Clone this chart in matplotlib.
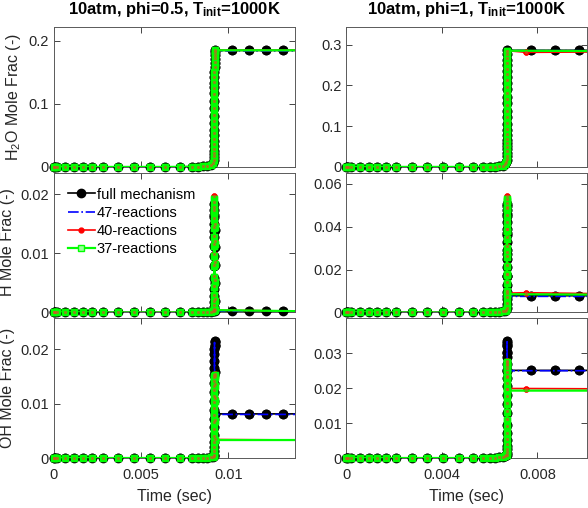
import matplotlib
matplotlib.use("Agg")
import matplotlib.pyplot as plt
from matplotlib.ticker import FuncFormatter

plt.rcParams['font.family'] = ['Liberation Sans', 'DejaVu Sans']
plt.rcParams['mathtext.fontset'] = 'custom'
plt.rcParams['mathtext.rm'] = 'Liberation Sans'
plt.rcParams['mathtext.it'] = 'Liberation Sans:italic'
plt.rcParams['mathtext.bf'] = 'Liberation Sans:bold'

# ---- phi = 0.5 (left column) ----
t05_base = [0, 0.00002, 0.00008, 0.0002, 0.00065, 0.00114, 0.00167, 0.00219, 0.00282, 0.00367, 0.00457,
            0.00549, 0.00638, 0.00722, 0.00789, 0.00829, 0.00857, 0.0088, 0.0090, 0.00912, 0.00917,
            0.00918, 0.009185, 0.00919, 0.009193, 0.009196, 0.009198, 0.0092, 0.009201, 0.009202, 0.009203, 0.009204,
            0.009205, 0.009206, 0.009207, 0.009208, 0.009209, 0.00921, 0.009211, 0.009212, 0.009214, 0.009217, 0.00922]
t05_full = t05_base + [0.01019, 0.01118, 0.01217, 0.01316, 0.01415]
t05_short = t05_base + [0.0145]

h2o05_full = [0, 0, 0, 0, 0, 0, 0, 0, 0, 0, 0, 0, 0, 0.0001, 0.0003, 0.0006, 0.001, 0.0017, 0.003, 0.006, 0.011,
              0.016, 0.02, 0.026, 0.033, 0.041, 0.05, 0.059, 0.069, 0.08, 0.093, 0.105,
              0.117, 0.127, 0.133, 0.142, 0.15, 0.158, 0.165, 0.171, 0.177, 0.182, 0.185,
              0.185, 0.185, 0.185, 0.185, 0.185]
h2o05_47 = [0, 0, 0, 0, 0, 0, 0, 0, 0, 0, 0, 0, 0, 0.0001, 0.0003, 0.0006, 0.001, 0.0017, 0.003, 0.006, 0.011,
            0.016, 0.02, 0.026, 0.033, 0.041, 0.05, 0.059, 0.069, 0.08, 0.093, 0.105,
            0.117, 0.127, 0.133, 0.142, 0.15, 0.158, 0.165, 0.171, 0.177, 0.182, 0.184,
            0.184, 0.184, 0.184, 0.184, 0.184]
h2o05_40 = [0, 0, 0, 0, 0, 0, 0, 0, 0, 0, 0, 0, 0, 0.0001, 0.0003, 0.0006, 0.001, 0.0017, 0.003, 0.006, 0.011,
            0.017, 0.022, 0.028, 0.036, 0.045, 0.054, 0.063, 0.073, 0.083, 0.094, 0.105,
            0.115, 0.125, 0.134, 0.143, 0.151, 0.159, 0.166, 0.172, 0.178, 0.182, 0.185,
            0.185]
h2o05_37 = [0, 0, 0, 0, 0, 0, 0, 0, 0, 0, 0, 0, 0, 0.0001, 0.0003, 0.0006, 0.001, 0.0017, 0.003, 0.006, 0.011,
            0.016, 0.021, 0.027, 0.034, 0.043, 0.052, 0.061, 0.071, 0.081, 0.092, 0.103,
            0.114, 0.124, 0.133, 0.142, 0.15, 0.158, 0.165, 0.171, 0.177, 0.182, 0.185,
            0.185]

h05_full = [0, 0, 0, 0, 0, 0, 0, 0, 0, 0, 0, 0, 0, 0, 0.00002, 0.00004, 0.00006, 0.0001, 0.00015, 0.0002, 0.0003,
            0.0005, 0.001, 0.0018, 0.0028, 0.004, 0.0059, 0.0078, 0.0095, 0.0112, 0.0128, 0.0138,
            0.015, 0.0162, 0.0173, 0.0183, 0.0165, 0.014, 0.011, 0.008, 0.005, 0.002, 0.0003,
            0.0002, 0.0002, 0.0002, 0.0002, 0.0002]
h05_47 = [0, 0, 0, 0, 0, 0, 0, 0, 0, 0, 0, 0, 0, 0, 0.00002, 0.00004, 0.00006, 0.0001, 0.00015, 0.0002, 0.0003,
          0.0005, 0.001, 0.0018, 0.0028, 0.004, 0.0059, 0.0078, 0.0095, 0.0112, 0.0128, 0.0138,
          0.015, 0.0162, 0.0172, 0.0181, 0.0165, 0.014, 0.011, 0.008, 0.005, 0.002, 0.0003,
          0.0002, 0.0002, 0.0002, 0.0002, 0.0002]
h05_40 = [0, 0, 0, 0, 0, 0, 0, 0, 0, 0, 0, 0, 0, 0, 0.00002, 0.00004, 0.00006, 0.0001, 0.00015, 0.0002, 0.0003,
          0.0006, 0.0012, 0.002, 0.003, 0.0045, 0.0062, 0.008, 0.0098, 0.0115, 0.013, 0.0145,
          0.016, 0.0173, 0.0186, 0.0197, 0.0178, 0.015, 0.012, 0.0085, 0.0055, 0.0022, 0.0004,
          0.0002]
h05_37 = [0, 0, 0, 0, 0, 0, 0, 0, 0, 0, 0, 0, 0, 0, 0.00002, 0.00004, 0.00006, 0.0001, 0.00015, 0.0002, 0.0003,
          0.0006, 0.0011, 0.0019, 0.003, 0.0043, 0.006, 0.0078, 0.0095, 0.0112, 0.0128, 0.0142,
          0.0156, 0.0168, 0.018, 0.0191, 0.0172, 0.0145, 0.0115, 0.0082, 0.0052, 0.002, 0.0004,
          0.0002]

oh05_full = [0, 0, 0, 0, 0, 0, 0, 0, 0, 0, 0, 0, 0, 0, 0, 0, 0.00002, 0.00005, 0.0001, 0.0002, 0.0004,
             0.0006, 0.0012, 0.002, 0.003, 0.0042, 0.0056, 0.0072, 0.0088, 0.0105, 0.0122, 0.0138,
             0.0152, 0.0165, 0.0178, 0.019, 0.02, 0.0208, 0.0213, 0.0214, 0.0205, 0.0158, 0.0081,
             0.0081, 0.0081, 0.0081, 0.0081, 0.0081]
oh05_47 = [0, 0, 0, 0, 0, 0, 0, 0, 0, 0, 0, 0, 0, 0, 0, 0, 0.00002, 0.00005, 0.0001, 0.0002, 0.0004,
           0.0006, 0.0012, 0.002, 0.003, 0.0042, 0.0056, 0.0072, 0.0088, 0.0105, 0.0122, 0.0138,
           0.0152, 0.0165, 0.0178, 0.019, 0.02, 0.0207, 0.0211, 0.0212, 0.0204, 0.0157, 0.008,
           0.008, 0.008, 0.008, 0.008, 0.008]
oh05_40 = [0, 0, 0, 0, 0, 0, 0, 0, 0, 0, 0, 0, 0, 0, 0, 0, 0.00002, 0.00005, 0.0001, 0.0002, 0.0004,
           0.0006, 0.0012, 0.002, 0.003, 0.0041, 0.0053, 0.0066, 0.0079, 0.0091, 0.0103, 0.0114,
           0.0124, 0.0133, 0.0141, 0.0148, 0.0153, 0.0154, 0.015, 0.0135, 0.011, 0.007, 0.0034,
           0.0033]
oh05_37 = [0, 0, 0, 0, 0, 0, 0, 0, 0, 0, 0, 0, 0, 0, 0, 0, 0.00002, 0.00005, 0.0001, 0.0002, 0.0004,
           0.0006, 0.0012, 0.002, 0.0029, 0.004, 0.0052, 0.0065, 0.0078, 0.009, 0.0102, 0.0113,
           0.0123, 0.0132, 0.014, 0.0147, 0.0151, 0.0152, 0.0148, 0.0132, 0.0105, 0.0068, 0.0033,
           0.0033]

# ---- phi = 1 (right column) ----
t10_base = [0, 0.00002, 0.00008, 0.0002, 0.00055, 0.00093, 0.00129, 0.00166, 0.00208, 0.00274, 0.00337,
            0.00403, 0.0047, 0.00532, 0.00574, 0.00602, 0.00623, 0.00641, 0.00658, 0.00666, 0.0067,
            0.00671, 0.006712, 0.006714, 0.006715, 0.006716, 0.006717, 0.006718, 0.006719, 0.00672, 0.006721, 0.006722,
            0.006723, 0.006724, 0.006725, 0.006726, 0.006727, 0.006728, 0.006729, 0.00673, 0.006731, 0.006733, 0.006735]
t10_full = t10_base + [0.00773, 0.00875, 0.00976, 0.01077]
t10_40 = t10_base + [0.00754, 0.0109]
t10_37 = t10_base + [0.0109]

h2o10_full = [0, 0, 0, 0, 0, 0, 0, 0, 0, 0, 0, 0, 0, 0.0001, 0.0002, 0.0004, 0.0008, 0.0015, 0.003, 0.006, 0.012,
              0.018, 0.026, 0.035, 0.044, 0.051, 0.058, 0.066, 0.078, 0.091, 0.105, 0.122,
              0.138, 0.156, 0.172, 0.19, 0.205, 0.22, 0.235, 0.25, 0.263, 0.276, 0.286,
              0.286, 0.286, 0.286, 0.286]
h2o10_47 = [0, 0, 0, 0, 0, 0, 0, 0, 0, 0, 0, 0, 0, 0.0001, 0.0002, 0.0004, 0.0008, 0.0015, 0.003, 0.006, 0.012,
            0.018, 0.026, 0.035, 0.044, 0.051, 0.058, 0.066, 0.078, 0.091, 0.105, 0.122,
            0.138, 0.156, 0.172, 0.19, 0.205, 0.22, 0.235, 0.25, 0.263, 0.276, 0.285,
            0.285, 0.285, 0.285, 0.285]
h2o10_40 = [0, 0, 0, 0, 0, 0, 0, 0, 0, 0, 0, 0, 0, 0.0001, 0.0002, 0.0004, 0.0008, 0.0015, 0.003, 0.006, 0.012,
            0.019, 0.028, 0.038, 0.048, 0.058, 0.069, 0.081, 0.094, 0.108, 0.122, 0.137,
            0.152, 0.167, 0.182, 0.197, 0.212, 0.227, 0.241, 0.254, 0.266, 0.276, 0.285,
            0.281, 0.282]
h2o10_37 = [0, 0, 0, 0, 0, 0, 0, 0, 0, 0, 0, 0, 0, 0.0001, 0.0002, 0.0004, 0.0008, 0.0015, 0.003, 0.006, 0.012,
            0.018, 0.027, 0.037, 0.047, 0.057, 0.068, 0.08, 0.093, 0.107, 0.121, 0.136,
            0.151, 0.166, 0.181, 0.196, 0.211, 0.226, 0.24, 0.253, 0.265, 0.276, 0.285,
            0.284]

h10_full = [0, 0, 0, 0, 0, 0, 0, 0, 0, 0, 0, 0, 0, 0.00002, 0.00005, 0.0001, 0.0002, 0.0003, 0.0005, 0.0008, 0.0012,
            0.002, 0.004, 0.0065, 0.0095, 0.013, 0.017, 0.021, 0.025, 0.029, 0.033, 0.036,
            0.039, 0.042, 0.045, 0.0475, 0.0495, 0.0505, 0.046, 0.037, 0.027, 0.017, 0.0078,
            0.0078, 0.0078, 0.0078, 0.0078]
h10_47 = [0, 0, 0, 0, 0, 0, 0, 0, 0, 0, 0, 0, 0, 0.00002, 0.00005, 0.0001, 0.0002, 0.0003, 0.0005, 0.0008, 0.0012,
          0.002, 0.004, 0.0065, 0.0095, 0.013, 0.017, 0.021, 0.025, 0.029, 0.033, 0.036,
          0.039, 0.042, 0.045, 0.0475, 0.0495, 0.0504, 0.046, 0.037, 0.027, 0.017, 0.0075,
          0.0075, 0.0075, 0.0075, 0.0075]
h10_40 = [0, 0, 0, 0, 0, 0, 0, 0, 0, 0, 0, 0, 0, 0.00002, 0.00005, 0.0001, 0.0002, 0.0003, 0.0005, 0.0008, 0.0012,
          0.002, 0.0042, 0.007, 0.0102, 0.014, 0.018, 0.0222, 0.0265, 0.0308, 0.035, 0.0388,
          0.0422, 0.0455, 0.0485, 0.051, 0.053, 0.0543, 0.049, 0.039, 0.028, 0.018, 0.009,
          0.0092, 0.0087]
h10_37 = [0, 0, 0, 0, 0, 0, 0, 0, 0, 0, 0, 0, 0, 0.00002, 0.00005, 0.0001, 0.0002, 0.0003, 0.0005, 0.0008, 0.0012,
          0.002, 0.0041, 0.0068, 0.01, 0.0137, 0.0177, 0.0218, 0.026, 0.0302, 0.0343, 0.038,
          0.0413, 0.0445, 0.0475, 0.05, 0.052, 0.053, 0.048, 0.038, 0.0275, 0.0175, 0.0085,
          0.0083]

oh10_full = [0, 0, 0, 0, 0, 0, 0, 0, 0, 0, 0, 0, 0, 0, 0.00002, 0.00005, 0.0001, 0.0002, 0.0003, 0.0005, 0.0008,
             0.0008, 0.0015, 0.0025, 0.0035, 0.0052, 0.0071, 0.0095, 0.0128, 0.0155, 0.018, 0.0205,
             0.0228, 0.025, 0.027, 0.0288, 0.0305, 0.032, 0.033, 0.0334, 0.0325, 0.03, 0.0251,
             0.0251, 0.0251, 0.0251, 0.0251]
oh10_47 = [0, 0, 0, 0, 0, 0, 0, 0, 0, 0, 0, 0, 0, 0, 0.00002, 0.00005, 0.0001, 0.0002, 0.0003, 0.0005, 0.0008,
           0.0008, 0.0015, 0.0025, 0.0035, 0.0052, 0.0071, 0.0095, 0.0128, 0.0155, 0.018, 0.0205,
           0.0228, 0.025, 0.027, 0.0288, 0.0305, 0.032, 0.033, 0.0333, 0.0324, 0.03, 0.025,
           0.025, 0.025, 0.025, 0.025]
oh10_40 = [0, 0, 0, 0, 0, 0, 0, 0, 0, 0, 0, 0, 0, 0, 0.00002, 0.00005, 0.0001, 0.0002, 0.0003, 0.0005, 0.0008,
           0.0008, 0.0016, 0.0027, 0.004, 0.0055, 0.0072, 0.0092, 0.0113, 0.0135, 0.0157, 0.0178,
           0.0198, 0.0216, 0.0232, 0.0246, 0.0258, 0.0268, 0.0275, 0.0278, 0.0265, 0.0235, 0.0199,
           0.0199, 0.0198]
oh10_37 = [0, 0, 0, 0, 0, 0, 0, 0, 0, 0, 0, 0, 0, 0, 0.00002, 0.00005, 0.0001, 0.0002, 0.0003, 0.0005, 0.0008,
           0.0008, 0.0016, 0.0026, 0.0038, 0.0053, 0.007, 0.009, 0.011, 0.0132, 0.0154, 0.0175,
           0.0195, 0.0213, 0.0229, 0.0243, 0.0255, 0.0265, 0.0272, 0.0276, 0.0262, 0.0232, 0.0193,
           0.0193]

t_ign = [0.00920, 0.00672]
titles = [r'10atm, phi=0.5, $\mathbf{T}_{\mathbf{init}}$=1000K', r'10atm, phi=1, $\mathbf{T}_{\mathbf{init}}$=1000K']
ylabels = [r'H$_2$O Mole Frac (-)', 'H Mole Frac (-)', 'OH Mole Frac (-)']
labels = ['full mechanism', '47-reactions', '40-reactions', '37-reactions']

left_col = [
    [(t05_full, h2o05_full), (t05_full, h2o05_47), (t05_short, h2o05_40), (t05_short, h2o05_37)],
    [(t05_full, h05_full), (t05_full, h05_47), (t05_short, h05_40), (t05_short, h05_37)],
    [(t05_full, oh05_full), (t05_full, oh05_47), (t05_short, oh05_40), (t05_short, oh05_37)],
]
right_col = [
    [(t10_full, h2o10_full), (t10_full, h2o10_47), (t10_40, h2o10_40), (t10_37, h2o10_37)],
    [(t10_full, h10_full), (t10_full, h10_47), (t10_40, h10_40), (t10_37, h10_37)],
    [(t10_full, oh10_full), (t10_full, oh10_47), (t10_40, oh10_40), (t10_37, oh10_37)],
]

xticks = [[0, 0.005, 0.01], [0, 0.004, 0.008]]
yticks = [
    [[0, 0.1, 0.2], [0, 0.01, 0.02], [0, 0.01, 0.02]],
    [[0, 0.1, 0.2, 0.3], [0, 0.02, 0.04, 0.06], [0, 0.01, 0.02, 0.03]],
]

green = (0, 1, 0)
styles = [
    dict(color='k', ls='-', lw=1.2, marker='o', ms=6, mfc='k', mec='k', zorder=2.0),
    dict(color='b', ls='-.', lw=1.2, zorder=2.1),
    dict(color='r', ls='-', lw=1.2, marker='o', ms=3.5, mfc='r', mec='r', zorder=2.2),
    dict(color=green, ls='-', lw=1.6, marker='s', ms=5.0, mfc=(0.6, 1, 0.6), mec=green, mew=1.0, zorder=2.3),
]
dot_color = (0.8, 0.35, 0.15)


# MATLAB draws whole markers for points inside the x range, so redraw those unclipped
def markers_in_range(ax, t, y, xmax, st, face=None):
    tt = [a for a in t if a <= xmax]
    yy = [b for a, b in zip(t, y) if a <= xmax]
    ax.plot(tt, yy, ls='none', marker=st['marker'], ms=st['ms'], mfc=face or st['mfc'], mec=st['mec'],
            mew=st.get('mew', 1.0), zorder=st['zorder'], clip_on=False, alpha=st.get('alpha', 1.0))


fig, axes = plt.subplots(3, 2, figsize=(5.88, 5.08), dpi=100)
plt.subplots_adjust(left=0.0918, right=0.9983, top=0.9469, bottom=0.0984, wspace=0.216, hspace=0.04)

fmt = FuncFormatter(lambda v, p: '%g' % v)
for c, col in enumerate([left_col, right_col]):
    xmax = 1.5 * t_ign[c]
    for r in range(3):
        ax = axes[r, c]
        ymax = 0
        for k in range(4):
            t, y = col[r][k]
            ax.plot(t, y, label=labels[k], **styles[k])
            if 'marker' in styles[k]:
                markers_in_range(ax, t, y, xmax, styles[k], face=styles[k]['mec'])
            ymax = max(ymax, max(y))
        # small red dots show through on top of the green squares
        t, y = col[r][2]
        markers_in_range(ax, t, y, xmax, dict(marker='o', ms=1.8, mfc=dot_color, mec=dot_color,
                                              mew=0.4, zorder=2.4, alpha=0.7))
        ax.set_xlim(0, xmax)
        ax.set_ylim(0, 1.2 * ymax)
        ax.set_xticks(xticks[c])
        ax.set_yticks(yticks[c][r])
        ax.xaxis.set_major_formatter(fmt)
        ax.yaxis.set_major_formatter(fmt)
        ax.tick_params(direction='in', top=True, right=True, length=4, width=0.6,
                       colors='0.15', labelsize=10.5)
        ax.tick_params(axis='x', pad=7)
        for s in ax.spines.values():
            s.set_color('0.35')
            s.set_linewidth(0.7)
            s.set_zorder(1.9)
        if r < 2:
            ax.tick_params(labelbottom=False)
        else:
            ax.set_xlabel('Time (sec)', fontsize=11.5, color='0.15', labelpad=5)
        if c == 0:
            ax.set_ylabel(ylabels[r], fontsize=11.5, color='0.15')
        if r == 0:
            ax.set_title(titles[c], fontsize=12, fontweight='bold', pad=9)

axes[1, 0].legend(loc='upper left', bbox_to_anchor=(0.02, 0.955), frameon=False, fontsize=10.5,
                  handlelength=1.9, handletextpad=0.1, labelspacing=0.28, borderaxespad=0.2)

fig.savefig('out.png', dpi=100)
